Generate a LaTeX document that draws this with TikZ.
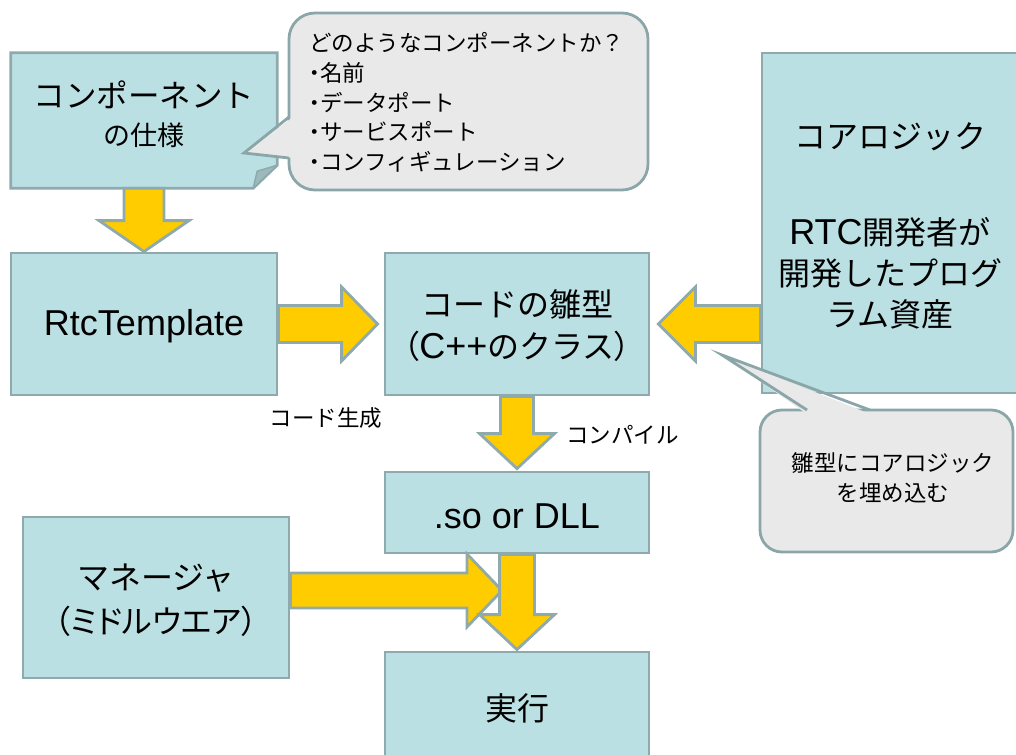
\documentclass[tikz,border=0pt]{standalone}
\usepackage{fontspec}
\setmainfont{Noto Sans CJK JP}
\newfontfamily\lat{Liberation Sans}
\newfontfamily\jpp[RawFeature=+palt]{Noto Sans CJK JP}
\usetikzlibrary{calc}
\definecolor{boxfill}{RGB}{187,224,227}
\definecolor{boxline}{RGB}{143,170,172}
\definecolor{arrowfill}{RGB}{255,204,0}
\definecolor{callfill}{RGB}{233,233,233}
\definecolor{callline}{RGB}{138,166,168}
\definecolor{foldfill}{RGB}{156,185,187}
\newcommand\blkdown[5]{\filldraw[blk] ($(#1)+(-#3,0)$) -- ($(#2)+(-#3,-#5)$) -- ($(#2)+(-#4,-#5)$) -- (#2) -- ($(#2)+(#4,-#5)$) -- ($(#2)+(#3,-#5)$) -- ($(#1)+(#3,0)$) -- cycle;}
\newcommand\blkright[5]{\filldraw[blk] ($(#1)+(0,-#3)$) -- ($(#2)+(-#5,-#3)$) -- ($(#2)+(-#5,-#4)$) -- (#2) -- ($(#2)+(-#5,#4)$) -- ($(#2)+(-#5,#3)$) -- ($(#1)+(0,#3)$) -- cycle;}
\newcommand\blkleft[5]{\filldraw[blk] ($(#1)+(0,-#3)$) -- ($(#2)+(#5,-#3)$) -- ($(#2)+(#5,-#4)$) -- (#2) -- ($(#2)+(#5,#4)$) -- ($(#2)+(#5,#3)$) -- ($(#1)+(0,#3)$) -- cycle;}
\newcommand\bigjp{\fontsize{32pt}{41pt}\selectfont}
\newcommand\bigla{\fontsize{36pt}{41pt}\selectfont\lat}
\newcommand\smalljp{\fontsize{22.5pt}{29.75pt}\selectfont}
\newcommand\bul{{\jpp ・}}
\begin{document}
\begin{tikzpicture}[x=1pt,y=-1pt,
  boxst/.style={draw=boxline, fill=boxfill, line width=2.8pt, line join=miter},
  box/.style={boxst, inner sep=0pt},
  blk/.style={draw=boxline, fill=arrowfill, line width=2.8pt, line join=miter},
  callst/.style={draw=callline, fill=callfill, line width=2.8pt},
  lbl/.style={inner sep=0pt, text=black, align=center}]
\useasboundingbox (0,0) rectangle (1016,754);
\clip (0,0) rectangle (1016,754);

% component spec box with folded corner
\node[inner sep=0pt, minimum width=266pt, minimum height=135pt] (spec) at (144,120.5) {};
\filldraw[boxst] (spec.north west) -- (spec.north east) -- ($(spec.south east)+(0,-23)$) -- ($(spec.south east)+(-24,0)$) -- (spec.south west) -- cycle;
\filldraw[draw=boxline, fill=foldfill, line width=1.5pt, line join=round] ($(spec.south east)+(-24,0)$) -- ($(spec.south east)+(-20,-17)$) -- ($(spec.south east)+(0,-23)$) -- cycle;
\node[lbl, font=\fontsize{31.5pt}{36pt}\selectfont] (spect1) at (144,95) {コンポーネント};
\node[lbl, font=\fontsize{27pt}{32pt}\selectfont] (spect2) at (144,135) {の仕様};

% boxes
\node[box, minimum width=266pt, minimum height=142pt] (rtc) at (144,324) {};
\node[lbl, font=\bigla] (rtct) at (144,326) {RtcTemplate};
\node[box, minimum width=264pt, minimum height=142pt] (code) at (517,324) {};
\node[lbl, font=\bigjp] (codet) at (517,326) {コードの雛型\\[1pt]{\jpp （}{\lat\fontsize{36pt}{41pt}\selectfont C++}のクラス{\jpp ）}};
\node[box, minimum width=256pt, minimum height=340pt] (core) at (890,223) {};
\node[lbl, font=\bigjp] (coret1) at (890,137) {コアロジック};
\node[lbl, font=\bigjp] (coret2) at (890,273) {{\lat\fontsize{36pt}{41pt}\selectfont RTC}開発者が\\開発したプログ\\ラム資産};
\node[box, minimum width=264pt, minimum height=81pt] (so) at (517,512.5) {};
\node[lbl, font=\bigla] (sot) at (517,516) {.so or DLL};
\node[box, minimum width=266pt, minimum height=161pt] (mgr) at (156,597.5) {};
\node[lbl, font=\bigjp] (mgrt) at (156,600) {マネージャ\\[3pt]{\jpp （ミドルウエア）}};
\node[box, minimum width=264pt, minimum height=112pt] (exec) at (517,708) {};
\node[lbl, font=\bigjp] (exect) at (517,708) {実行};

% block arrows
\blkdown{spec.south}{rtc.north}{20}{45}{31}
\coordinate (t2) at ($(code.west)+(-6,0)$);
\blkright{rtc.east}{t2}{18.5}{37}{36}
\coordinate (s3) at (core.west |- code.east);
\coordinate (t3) at ($(code.east)+(8,0)$);
\blkleft{s3}{t3}{18.5}{37}{37}
\coordinate (t4) at ($(so.north)+(0,-2)$);
\blkdown{code.south}{t4}{16.5}{37.5}{35}
\coordinate (s5) at ($(mgr.east)+(0,-7)$);
\coordinate (t5) at ($(s5 -| so.south)+(-15,0)$);
\blkright{s5}{t5}{17.5}{36.5}{35}
\coordinate (t6) at ($(exec.north)+(0,-1)$);
\blkdown{so.south}{t6}{17.5}{37.5}{35}

% arrow labels
\node[lbl, font=\smalljp] (gen) at (326,418) {コード生成};
\node[lbl, font=\smalljp, anchor=west] (comp) at (566,435) {コンパイル};

% callout 1
\node[callst, rounded corners=26pt, minimum width=359pt, minimum height=177pt, inner sep=0pt] (co1) at (468.5,101.5) {};
\coordinate (co1b1) at (289,117);
\coordinate (co1b2) at (289,158);
\coordinate (co1tip) at (244,153);
\fill[callfill] ($(co1b1)+(4,0)$) -- (co1tip) -- ($(co1b2)+(4,0)$) -- cycle;
\draw[callline, line width=2.8pt, line join=miter] (co1b1) -- (co1tip) -- (co1b2);
\node[lbl, font=\smalljp, anchor=west, align=left] (co1t) at (309,102.5) {どのようなコンポーネントか？\\\bul 名前\\\bul データポート\\\bul サービスポート\\\bul コンフィギュレーション};

% callout 2
\node[callst, rounded corners=22pt, minimum width=253pt, minimum height=142pt, inner sep=0pt] (co2) at (886.5,481) {};
\coordinate (co2b1) at (807,410);
\coordinate (co2b2) at (870,410);
\coordinate (co2tip) at (722,355);
\fill[callfill] ($(co2b1)+(0,4)$) -- (co2tip) -- ($(co2b2)+(0,4)$) -- cycle;
\draw[callline, line width=2.8pt, line join=miter] (co2b1) -- (co2tip) -- (co2b2);
\node[lbl, font=\fontsize{22.5pt}{30pt}\selectfont] (co2t) at (893,478) {雛型にコアロジック\\を埋め込む};
\end{tikzpicture}
\end{document}
